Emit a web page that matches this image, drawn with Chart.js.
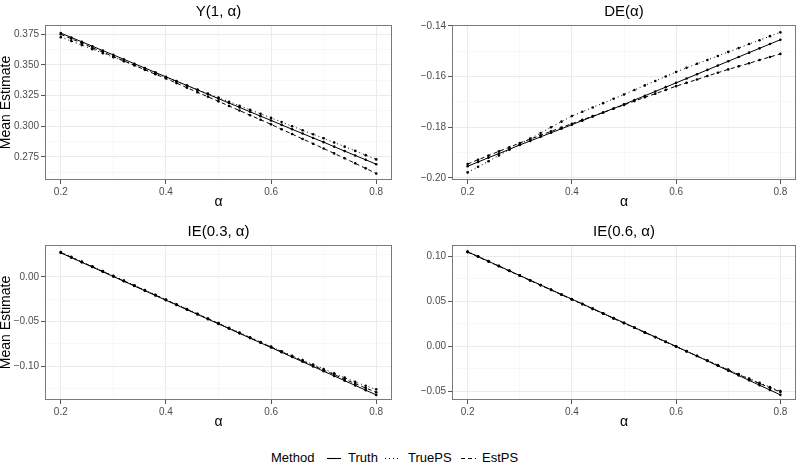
<!DOCTYPE html>
<html lang="en">
<head>
  <meta charset="UTF-8">
  <title>Mean Estimate by alpha</title>
  <script src="https://cdn.jsdelivr.net/npm/chart.js"></script>
  <style>
    body {
      margin: 0;
      background: #ffffff;
      font-family: "Liberation Sans", Arial, sans-serif;
    }
    .page {
      position: relative;
      width: 800px;
      height: 463px;
      overflow: hidden;
    }
    .panel {
      position: absolute;
      width: 400px;
      height: 215px;
    }
    /* legend at the bottom */
    .lg {
      position: absolute;
      top: 449px;
      font-size: 13px;
      line-height: 18px;
      color: #000;
      white-space: nowrap;
    }
    .lg svg {
      display: block;
    }
  </style>
</head>
<body>
<div class="page">
  <canvas id="pY" class="panel" width="400" height="215" style="left:0;top:0"></canvas>
  <canvas id="pDE" class="panel" width="400" height="215" style="left:400px;top:0"></canvas>
  <canvas id="pIE3" class="panel" width="400" height="215" style="left:0;top:220px"></canvas>
  <canvas id="pIE6" class="panel" width="400" height="215" style="left:400px;top:220px"></canvas>

  <div class="lg" style="left:271px">Method</div>
  <div class="lg" style="left:327px"><svg width="14" height="18"><line x1="0" y1="9.5" x2="14" y2="9.5" stroke="#000" stroke-width="1.1"/></svg></div>
  <div class="lg" style="left:348px">Truth</div>
  <div class="lg" style="left:385px"><svg width="15" height="18"><line x1="0" y1="9.5" x2="15" y2="9.5" stroke="#000" stroke-width="1.1" stroke-dasharray="1 3"/></svg></div>
  <div class="lg" style="left:408px">TruePS</div>
  <div class="lg" style="left:461px"><svg width="15" height="18"><line x1="0" y1="9.5" x2="15" y2="9.5" stroke="#000" stroke-width="1.1" stroke-dasharray="4 3"/></svg></div>
  <div class="lg" style="left:482px">EstPS</div>
</div>

<script>
  // alpha grid
  var alpha = [0.20, 0.22, 0.24, 0.26, 0.28, 0.30, 0.32, 0.34, 0.36, 0.38, 0.40,
               0.42, 0.44, 0.46, 0.48, 0.50, 0.52, 0.54, 0.56, 0.58, 0.60,
               0.62, 0.64, 0.66, 0.68, 0.70, 0.72, 0.74, 0.76, 0.78, 0.80];

  // Y(1, alpha)
  var yTruth = [0.3760, 0.3724, 0.3689, 0.3653, 0.3617, 0.3582, 0.3546, 0.3510, 0.3475, 0.3439, 0.3403,
                0.3368, 0.3332, 0.3296, 0.3261, 0.3225, 0.3189, 0.3154, 0.3118, 0.3082, 0.3047,
                0.3011, 0.2975, 0.2940, 0.2904, 0.2870, 0.2833, 0.2797, 0.2761, 0.2726, 0.2690];
  var yTruePS = [0.3727, 0.3695, 0.3662, 0.3629, 0.3596, 0.3563, 0.3530, 0.3497, 0.3464, 0.3431, 0.3398,
                 0.3365, 0.3332, 0.3299, 0.3266, 0.3233, 0.3200, 0.3167, 0.3134, 0.3101, 0.3068,
                 0.3034, 0.3000, 0.2967, 0.2934, 0.2902, 0.2867, 0.2833, 0.2799, 0.2764, 0.2729];
  var yEstPS = [0.3750, 0.3714, 0.3678, 0.3641, 0.3605, 0.3569, 0.3533, 0.3497, 0.3460, 0.3424, 0.3390,
                0.3352, 0.3314, 0.3277, 0.3240, 0.3203, 0.3165, 0.3128, 0.3090, 0.3053, 0.3015,
                0.2975, 0.2936, 0.2896, 0.2857, 0.2818, 0.2778, 0.2738, 0.2697, 0.2656, 0.2614];

  // DE(alpha)
  var deTruth = [-0.1954, -0.1937, -0.1920, -0.1904, -0.1887, -0.1870, -0.1854, -0.1838, -0.1822, -0.1806, -0.1790,
                 -0.1774, -0.1758, -0.1742, -0.1726, -0.1710, -0.1693, -0.1676, -0.1659, -0.1642, -0.1625,
                 -0.1608, -0.1591, -0.1574, -0.1557, -0.1540, -0.1523, -0.1506, -0.1489, -0.1472, -0.1455];
  var deTruePS = [-0.1978, -0.1956, -0.1934, -0.1911, -0.1889, -0.1867, -0.1845, -0.1823, -0.1800, -0.1778, -0.1756,
                  -0.1739, -0.1722, -0.1705, -0.1688, -0.1671, -0.1653, -0.1635, -0.1618, -0.1600, -0.1582,
                  -0.1566, -0.1550, -0.1535, -0.1519, -0.1503, -0.1488, -0.1472, -0.1457, -0.1441, -0.1426];
  var deEstPS = [-0.1945, -0.1928, -0.1912, -0.1895, -0.1879, -0.1862, -0.1847, -0.1832, -0.1816, -0.1801, -0.1786,
                 -0.1771, -0.1756, -0.1742, -0.1727, -0.1712, -0.1697, -0.1682, -0.1668, -0.1653, -0.1638,
                 -0.1625, -0.1612, -0.1598, -0.1585, -0.1572, -0.1560, -0.1548, -0.1535, -0.1523, -0.1511];

  // IE(0.3, alpha)
  var ie3Truth = [0.0270, 0.0217, 0.0164, 0.0111, 0.0058, 0.0005, -0.0048, -0.0101, -0.0154, -0.0207, -0.0260,
                  -0.0313, -0.0366, -0.0419, -0.0472, -0.0525, -0.0578, -0.0631, -0.0684, -0.0737, -0.0790,
                  -0.0843, -0.0896, -0.0949, -0.1002, -0.1055, -0.1108, -0.1161, -0.1214, -0.1267, -0.1320];
  var ie3TruePS = [0.0278, 0.0225, 0.0172, 0.0119, 0.0066, 0.0013, -0.0040, -0.0093, -0.0146, -0.0199, -0.0252,
                   -0.0305, -0.0358, -0.0411, -0.0464, -0.0517, -0.0570, -0.0622, -0.0675, -0.0728, -0.0780,
                   -0.0831, -0.0881, -0.0931, -0.0980, -0.1030, -0.1079, -0.1127, -0.1174, -0.1218, -0.1258];
  var ie3EstPS = [0.0274, 0.0221, 0.0168, 0.0115, 0.0062, 0.0009, -0.0044, -0.0097, -0.0150, -0.0203, -0.0256,
                  -0.0309, -0.0362, -0.0415, -0.0468, -0.0521, -0.0574, -0.0627, -0.0680, -0.0732, -0.0784,
                  -0.0836, -0.0888, -0.0940, -0.0991, -0.1042, -0.1093, -0.1144, -0.1194, -0.1243, -0.1290];

  // IE(0.6, alpha)
  var ie6Truth = [0.1048, 0.0996, 0.0943, 0.0891, 0.0838, 0.0786, 0.0734, 0.0681, 0.0629, 0.0576, 0.0524,
                  0.0472, 0.0419, 0.0367, 0.0314, 0.0262, 0.0210, 0.0157, 0.0105, 0.0052, 0.0000,
                  -0.0054, -0.0107, -0.0161, -0.0215, -0.0269, -0.0322, -0.0376, -0.0430, -0.0483, -0.0537];
  var ie6TruePS = [0.1052, 0.0999, 0.0946, 0.0893, 0.0840, 0.0787, 0.0734, 0.0681, 0.0628, 0.0575, 0.0522,
                   0.0469, 0.0416, 0.0363, 0.0311, 0.0259, 0.0207, 0.0155, 0.0103, 0.0051, 0.0000,
                   -0.0052, -0.0104, -0.0155, -0.0206, -0.0257, -0.0307, -0.0356, -0.0404, -0.0450, -0.0495];
  var ie6EstPS = [0.1045, 0.0993, 0.0940, 0.0888, 0.0835, 0.0783, 0.0730, 0.0678, 0.0625, 0.0573, 0.0520,
                  0.0468, 0.0415, 0.0363, 0.0310, 0.0258, 0.0206, 0.0153, 0.0101, 0.0049, -0.0003,
                  -0.0055, -0.0107, -0.0159, -0.0210, -0.0262, -0.0312, -0.0362, -0.0411, -0.0459, -0.0505];

  // tick values (major labelled, minor only gridlines)
  var xMajor = [0.2, 0.4, 0.6, 0.8];
  var xMinor = [0.3, 0.5, 0.7];
  var yMajorY = [0.275, 0.300, 0.325, 0.350, 0.375];
  var yMinorY = [0.2625, 0.2875, 0.3125, 0.3375, 0.3625];
  var yMajorDE = [-0.20, -0.18, -0.16, -0.14];
  var yMinorDE = [-0.19, -0.17, -0.15];
  var yMajorIE3 = [-0.10, -0.05, 0.00];
  var yMinorIE3 = [-0.125, -0.075, -0.025, 0.025];
  var yMajorIE6 = [-0.05, 0.00, 0.05, 0.10];
  var yMinorIE6 = [-0.025, 0.025, 0.075];

  var methods = ['Truth', 'TruePS', 'EstPS'];
  var dashes = [[], [1, 3], [4, 3]];

  var FONT = '"Liberation Sans", Arial, sans-serif';

  function isIn(list, v) {
    return list.some(function(m) { return Math.abs(m - v) < 1e-9; });
  }

  function fmt(v, dec) {
    var s = Math.abs(v).toFixed(dec);
    return (v < -1e-9 ? '\u2212' : '') + s;
  }

  // ggplot-like panel border drawn on top of everything
  var borderPlugin = {
    id: 'panelBorder',
    afterDatasetsDraw: function(chart) {
      var a = chart.chartArea, c = chart.ctx;
      c.save();
      c.strokeStyle = '#7a7a7a';
      c.lineWidth = 1;
      c.strokeRect(Math.round(a.left) + 0.5, Math.round(a.top) + 0.5,
                   Math.round(a.right - a.left) - 1, Math.round(a.bottom - a.top) - 1);
      c.restore();
    }
  };

  function makePanel(id, title, series, yMin, yMax, yMajor, yMinor, dec, isLeft) {
    var datasets = series.map(function(vals, k) {
      return {
        label: methods[k],
        data: alpha.map(function(a, i) { return { x: a, y: vals[i] }; }),
        borderColor: '#000',
        backgroundColor: '#000',
        borderWidth: 1,
        borderDash: dashes[k],
        pointRadius: 1.3,
        pointBorderWidth: 0,
        pointBackgroundColor: '#000',
        tension: 0
      };
    });

    function gridOpts(major, minor) {
      return {
        color: function(ctx) { return isIn(major, ctx.tick.value) ? '#ebebeb' : '#f3f3f3'; },
        lineWidth: function(ctx) { return isIn(major, ctx.tick.value) ? 1 : 0.6; },
        tickColor: function(ctx) { return isIn(major, ctx.tick.value) ? '#555' : 'rgba(0,0,0,0)'; },
        tickLength: 4,
        tickWidth: 1
      };
    }

    new Chart(document.getElementById(id), {
      type: 'line',
      data: { datasets: datasets },
      plugins: [borderPlugin],
      options: {
        responsive: false,
        animation: false,
        events: [],
        layout: { padding: { top: 0, left: 0, bottom: 0, right: isLeft ? 8 : 2 } },
        plugins: {
          legend: { display: false },
          tooltip: { enabled: false },
          title: {
            display: true,
            text: title,
            fullSize: false,
            color: '#000',
            font: { family: FONT, size: 15, weight: 'normal' },
            padding: { top: 3, bottom: 4 }
          }
        },
        scales: {
          x: {
            type: 'linear',
            min: 0.17,
            max: 0.83,
            afterBuildTicks: function(s) {
              s.ticks = xMajor.concat(xMinor).sort().map(function(v) { return { value: v }; });
            },
            afterFit: function(s) { s.height = 35; },
            grid: gridOpts(xMajor, xMinor),
            border: { display: false },
            ticks: {
              autoSkip: false,
              maxRotation: 0,
              padding: 2,
              color: '#4d4d4d',
              font: { family: FONT, size: 10 },
              callback: function(v) { return isIn(xMajor, v) ? v.toFixed(1) : ''; }
            },
            title: {
              display: true,
              text: '\u03b1',
              color: '#000',
              font: { family: FONT, size: 14 },
              padding: { top: 0, bottom: 4 }
            }
          },
          y: {
            type: 'linear',
            min: yMin,
            max: yMax,
            afterBuildTicks: function(s) {
              s.ticks = yMajor.concat(yMinor).sort(function(a, b) { return a - b; })
                .map(function(v) { return { value: v }; });
            },
            afterFit: function(s) { s.width = isLeft ? 45 : 52; },
            grid: gridOpts(yMajor, yMinor),
            border: { display: false },
            ticks: {
              autoSkip: false,
              padding: 2,
              color: '#4d4d4d',
              font: { family: FONT, size: 10 },
              callback: function(v) { return isIn(yMajor, v) ? fmt(v, dec) : ''; }
            },
            title: {
              display: isLeft,
              text: 'Mean Estimate',
              color: '#000',
              font: { family: FONT, size: 14, lineHeight: 0.9 },
              padding: { top: 0, bottom: 0 }
            }
          }
        }
      }
    });
  }

  makePanel('pY', 'Y(1, \u03b1)', [yTruth, yTruePS, yEstPS], 0.2561, 0.3826, yMajorY, yMinorY, 3, true);
  makePanel('pDE', 'DE(\u03b1)', [deTruth, deTruePS, deEstPS], -0.2008, -0.1397, yMajorDE, yMinorDE, 2, false);
  makePanel('pIE3', 'IE(0.3, \u03b1)', [ie3Truth, ie3TruePS, ie3EstPS], -0.1377, 0.0358, yMajorIE3, yMinorIE3, 2, true);
  makePanel('pIE6', 'IE(0.6, \u03b1)', [ie6Truth, ie6TruePS, ie6EstPS], -0.0594, 0.1124, yMajorIE6, yMinorIE6, 2, false);
</script>
</body>
</html>
